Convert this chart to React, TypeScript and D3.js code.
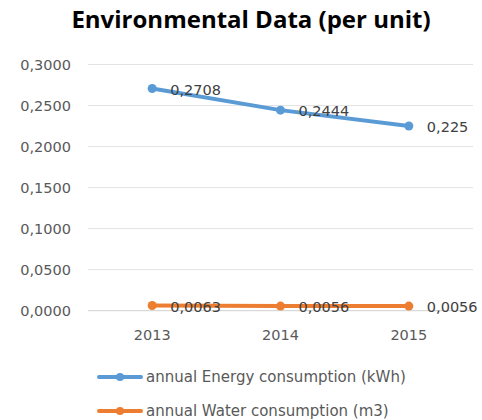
import React from "react";
import * as d3 from "d3";

const years = ["2013", "2014", "2015"];
const energy = [0.2708, 0.2444, 0.225];
const water = [0.0063, 0.0056, 0.0056];
const energyLabels = ["0,2708", "0,2444", "0,225"];
const waterLabels = ["0,0063", "0,0056", "0,0056"];
const yTicks = [0, 0.05, 0.1, 0.15, 0.2, 0.25, 0.3];
const seriesNames = ["annual Energy consumption (kWh)", "annual Water consumption (m3)"];
const colors = ["#5B9BD5", "#ED7D31"];

const W = 482, H = 420;
const font = "'DejaVu Sans', sans-serif";

export default function App() {
  const x = d3.scaleBand().domain(years).range([88, 473]);
  const y = d3.scaleLinear().domain([0, 0.3]).range([310.7, 64.5]);
  const cx = (d: string) => (x(d) as number) + x.bandwidth() / 2;
  const line = d3.line<number>().x((_, i) => cx(years[i])).y((v) => y(v));
  const fmt = (v: number) => v.toFixed(4).replace(".", ",");
  const series = [
    { vals: energy, labels: energyLabels },
    { vals: water, labels: waterLabels },
  ];
  return (
    <svg width={W} height={H} style={{ position: "absolute", left: 0, top: 0, background: "#fff" }} fontFamily={font}>
      <text x={251} y={28} textAnchor="middle" fontSize={24} fontWeight="bold" fill="#000" fontFamily="'Open Sans', sans-serif">
        Environmental Data (per unit)
      </text>
      {yTicks.map((t) => (
        <g key={t}>
          <line x1={88} x2={473} y1={y(t)} y2={y(t)} stroke={t === 0 ? "#d0d0d0" : "#e3e3e3"} strokeWidth={1} />
          <text x={71} y={y(t)} dy="0.36em" textAnchor="end" fontSize={14.5} fill="#595959">
            {fmt(t)}
          </text>
        </g>
      ))}
      {years.map((yr) => (
        <text key={yr} x={cx(yr)} y={335} dy="0.36em" textAnchor="middle" fontSize={14.5} fill="#595959">
          {yr}
        </text>
      ))}
      {series.map((s, si) => (
        <g key={si}>
          <path d={line(s.vals) as string} fill="none" stroke={colors[si]} strokeWidth={4} strokeLinecap="round" />
          {s.vals.map((v, i) => (
            <circle key={i} cx={cx(years[i])} cy={y(v)} r={4.5} fill={colors[si]} />
          ))}
          {s.vals.map((v, i) => (
            <text key={"l" + i} x={cx(years[i]) + 18} y={y(v)} dy="0.42em" fontSize={14.5} fill="#404040">
              {s.labels[i]}
            </text>
          ))}
        </g>
      ))}
      {seriesNames.map((n, i) => (
        <g key={n} transform={`translate(0, ${377 + i * 34})`}>
          <line x1={99} x2={141} y1={0} y2={0} stroke={colors[i]} strokeWidth={4} strokeLinecap="round" />
          <circle cx={120} cy={0} r={4} fill={colors[i]} />
          <text x={146} y={0} dy="0.36em" fontSize={15} fill="#595959">
            {n}
          </text>
        </g>
      ))}
    </svg>
  );
}
